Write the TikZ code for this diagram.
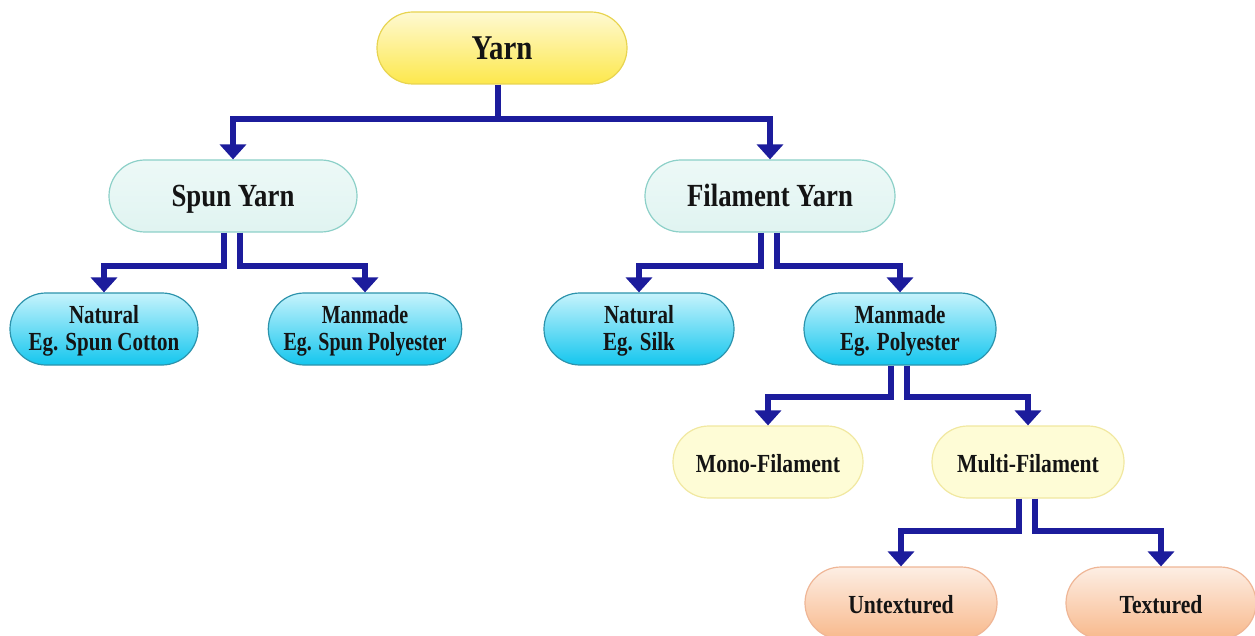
\documentclass[tikz,border=0pt]{standalone}
\usepackage{fontspec}
\setmainfont{Liberation Serif}
\usetikzlibrary{shapes.misc,arrows.meta}
\definecolor{navy}{HTML}{1C1C9C}
\definecolor{txt}{HTML}{141414}
\definecolor{yelTop}{HTML}{FEF9D2}
\definecolor{yelBot}{HTML}{FDE84C}
\definecolor{yelLine}{HTML}{E8D450}
\definecolor{mintFill}{HTML}{E0F4F1}
\definecolor{mintTop}{HTML}{EDF9F7}
\definecolor{mintLine}{HTML}{8CD0C8}
\definecolor{cyTop}{HTML}{C6F3FC}
\definecolor{cyBot}{HTML}{14C6EE}
\definecolor{cyLine}{HTML}{2C93AC}
\definecolor{lyFill}{HTML}{FEFCD6}
\definecolor{lyLine}{HTML}{F1E8A0}
\definecolor{peTop}{HTML}{FDEEE4}
\definecolor{peBot}{HTML}{F8B98C}
\definecolor{peLine}{HTML}{EFB696}
\newcommand{\lbl}[5][1.03]{\raisebox{0pt}[\dimexpr\height+#5\relax][\depth]{\scalebox{#1}[1.24]{\fontsize{#2}{#3}\selectfont\bfseries\begin{tabular}{@{}c@{}}#4\end{tabular}}}}
\tikzset{
  pill/.style={rounded rectangle, inner sep=0pt, minimum height=72pt, text=txt},
  yarnbox/.style={pill, top color=yelTop, bottom color=yelBot, draw=yelLine, line width=1.2pt},
  mintbox/.style={pill, top color=mintTop, bottom color=mintFill, draw=mintLine, line width=1.2pt},
  cyanbox/.style={pill, top color=cyTop, bottom color=cyBot, draw=cyLine, line width=1.2pt},
  lightbox/.style={pill, fill=lyFill, draw=lyLine, line width=1.2pt},
  peachbox/.style={pill, top color=peTop, bottom color=peBot, draw=peLine, line width=1.2pt},
  arr/.style={draw=navy, line width=6pt, -{Triangle[width=26pt,length=15pt]}, color=navy}
}
\begin{document}
\begin{tikzpicture}[x=1pt,y=-1pt]
\useasboundingbox[fill=white] (0,0) rectangle (1255,636);

\node[yarnbox, minimum width=250pt] (yarn) at (502,48) {\lbl{28}{30}{Yarn}{8pt}};
\node[mintbox, minimum width=248pt] (spun) at (233,196) {\lbl{26}{28}{Spun Yarn}{8pt}};
\node[mintbox, minimum width=250pt] (fil) at (770,196) {\lbl{26}{28}{Filament Yarn}{8pt}};

\node[cyanbox, minimum width=188pt] (nat1) at (104,329) {\lbl[1.0]{21}{21.7}{Natural\\Eg. Spun Cotton}{5pt}};
\node[cyanbox, minimum width=190pt] (man1) at (365,329) {\lbl[0.95]{21}{21.7}{Manmade\\Eg. Spun Polyester}{5pt}};
\node[cyanbox, minimum width=190pt] (nat2) at (639,329) {\lbl[1.0]{21}{21.7}{Natural\\Eg. Silk}{5pt}};
\node[cyanbox, minimum width=192pt] (man2) at (900,329) {\lbl[1.0]{21}{21.7}{Manmade\\Eg. Polyester}{5pt}};

\node[lightbox, minimum width=190pt] (mono) at (768,462) {\lbl{21}{22}{Mono-Filament}{10pt}};
\node[lightbox, minimum width=192pt] (multi) at (1028,462) {\lbl{21}{22}{Multi-Filament}{10pt}};

\node[peachbox, minimum width=192pt] (untex) at (901,603) {\lbl{21}{22}{Untextured}{10pt}};
\node[peachbox, minimum width=190pt] (tex) at (1161,603) {\lbl{21}{22}{Textured}{10pt}};

\draw[arr] ([xshift=-4pt]yarn.south) -- ++(0,34) -| (spun.north);
\draw[arr] ([xshift=-4pt]yarn.south) -- ++(0,34) -| (fil.north);

\draw[arr] ([xshift=-9pt]spun.south) -- ++(0,33) -| (nat1.north);
\draw[arr] ([xshift=7pt]spun.south) -- ++(0,33) -| (man1.north);

\draw[arr] ([xshift=-9pt]fil.south) -- ++(0,33) -| (nat2.north);
\draw[arr] ([xshift=7pt]fil.south) -- ++(0,33) -| (man2.north);

\draw[arr] ([xshift=-9pt]man2.south) -- ++(0,31) -| (mono.north);
\draw[arr] ([xshift=7pt]man2.south) -- ++(0,31) -| (multi.north);

\draw[arr] ([xshift=-9pt]multi.south) -- ++(0,32) -| (untex.north);
\draw[arr] ([xshift=7pt]multi.south) -- ++(0,32) -| (tex.north);
\end{tikzpicture}
\end{document}
